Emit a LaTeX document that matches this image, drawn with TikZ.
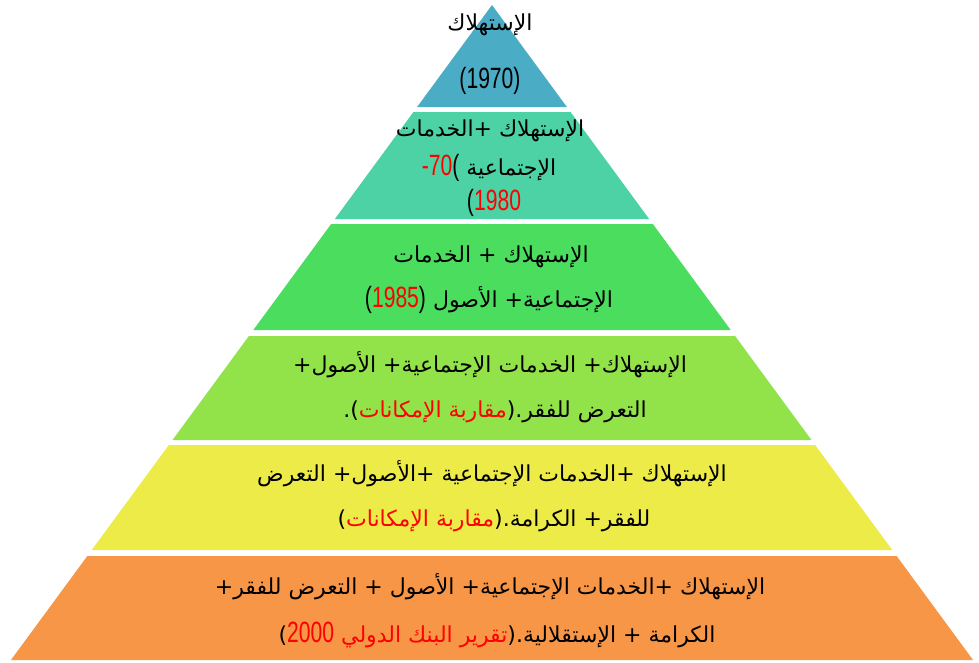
\documentclass[tikz,border=0pt]{standalone}
\usepackage{fontspec}
\TeXXeTstate=1
\newfontfamily\arabicfont[Script=Arabic]{DejaVu Sans}
\newfontfamily\arabicred[Script=Arabic,Color=FF0000]{DejaVu Sans}
\newfontfamily\numfont[FakeStretch=0.72]{Liberation Sans}
\newfontfamily\numred[FakeStretch=0.72,Color=FF0000]{Liberation Sans}
\definecolor{nivelA}{HTML}{4BACC6}
\definecolor{nivelB}{HTML}{4CD2A5}
\definecolor{nivelC}{HTML}{4ADD5E}
\definecolor{nivelD}{HTML}{92E24A}
\definecolor{nivelE}{HTML}{EDEB48}
\definecolor{nivelF}{HTML}{F79646}
% texto de derecha a izquierda, cifras y textos en rojo (color de la fuente)
\newcommand{\arl}[1]{\beginR #1\endR}
\newcommand{\num}[1]{\beginL{\numfont\fontsize{22}{24}\selectfont #1}\endL}
\newcommand{\numr}[1]{{\numred #1}}
\newcommand{\rtxt}[1]{{\arabicred #1}}

\begin{document}
\begin{tikzpicture}[x=0.75pt, y=-0.75pt,
      texto/.style={anchor=base, inner sep=0pt,
        font=\arabicfont\fontsize{16.5}{18}\selectfont}]
      \useasboundingbox (0,0) rectangle (979,662);
      \fill[white] (0,0) rectangle (979,662);

      % Niveles de la piramide (mitad del ancho: 0.7344*(y-5))
      \fill[nivelA] (492,5) -- ({492+0.7344*102},107) -- ({492-0.7344*102},107) -- cycle;
      \fill[nivelB] ({492-0.7344*107},112) -- ({492+0.7344*107},112) --
        ({492+0.7344*214},219) -- ({492-0.7344*214},219) -- cycle;
      \fill[nivelC] ({492-0.7344*219},224) -- ({492+0.7344*219},224) --
        ({492+0.7344*325},330) -- ({492-0.7344*325},330) -- cycle;
      \fill[nivelD] ({492-0.7344*331},336) -- ({492+0.7344*331},336) --
        ({492+0.7344*435},440) -- ({492-0.7344*435},440) -- cycle;
      \fill[nivelE] ({492-0.7344*440},445) -- ({492+0.7344*440},445) --
        ({492+0.7344*545},550) -- ({492-0.7344*545},550) -- cycle;
      \fill[nivelF] ({492-0.7344*551},556) -- ({492+0.7344*551},556) --
        ({492+0.7344*655},660) -- ({492-0.7344*655},660) -- cycle;

      % Textos
      \node[texto] (n1a) at (490,30) {\arl{الإستهلاك}};
      \node[texto] (n1b) at (490,88) {\num{(1970)}};

      \node[texto] (n2a) at (490,136) {\arl{الإستهلاك +الخدمات}};
      \node[texto] (n2b) at (489,175) {\arl{الإجتماعية \num{\numr{-70}(}}};
      \node[texto] (n2c) at (494,210) {\num{(\numr{1980}}};

      \node[texto] (n3a) at (491,262) {\arl{الإستهلاك + الخدمات}};
      \node[texto] (n3b) at (489,307) {\arl{الإجتماعية+ الأصول \num{(\numr{1985})}}};

      \node[texto] (n4a) at (490,372) {\arl{الإستهلاك+ الخدمات الإجتماعية+ الأصول+}};
      \node[texto] (n4b) at (495,417) {\arl{التعرض للفقر.(\rtxt{مقاربة الإمكانات}).}};

      \node[texto] (n5a) at (492,481) {\arl{الإستهلاك +الخدمات الإجتماعية +الأصول+ التعرض}};
      \node[texto] (n5b) at (494,526) {\arl{للفقر+ الكرامة.(\rtxt{مقاربة الإمكانات})}};

      \node[texto] (n6a) at (490,594) {\arl{الإستهلاك +الخدمات الإجتماعية+ الأصول + التعرض للفقر+}};
      \node[texto] (n6b) at (497,642) {\arl{الكرامة + الإستقلالية.(\rtxt{تقرير البنك الدولي} \num{\numr{2000}})}};
    \end{tikzpicture}
\end{document}
